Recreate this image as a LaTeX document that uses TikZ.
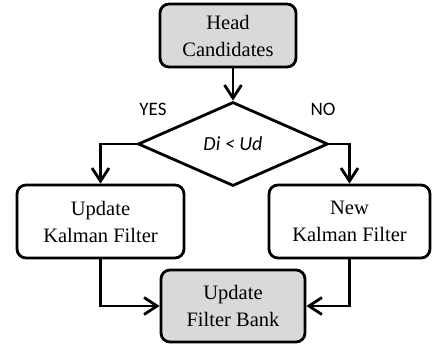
\documentclass[tikz,border=0pt]{standalone}
\usepackage{fontspec}
\setmainfont{Liberation Serif}
\newfontfamily\calfont{Carlito}
\usetikzlibrary{shapes.geometric,arrows.meta}
\definecolor{boxgray}{RGB}{217,217,217}

\begin{document}
\begin{tikzpicture}[x=1pt,y=-1pt,
        line width=2.8pt,
        block/.style={draw, rounded corners=9pt, align=center, inner sep=0pt,
            font=\fontsize{20.5}{27}\selectfont},
        grayblock/.style={block, fill=boxgray},
        decision/.style={draw, diamond, aspect=2.26, inner sep=0pt,
            minimum width=190pt, minimum height=84pt,
            font=\calfont\itshape\fontsize{20}{24}\selectfont},
        answer/.style={font=\calfont\fontsize{19}{23}\selectfont},
        flow/.style={-{Straight Barb[length=13pt,width=17pt]}}]
    \useasboundingbox (0,0) rectangle (433,348);

    \node[grayblock, minimum width=136pt, minimum height=63pt] (hc) at (228,35.5) {Head\\Candidates};
    \node[decision] (dec) at (233,144) {Di < Ud};
    \node[block, minimum width=167pt, minimum height=73pt] (ukf) at (100.5,221.5) {Update\\Kalman Filter};
    \node[block, minimum width=161pt, minimum height=73pt] (nkf) at (349.5,221.5) {New\\Kalman Filter};
    \node[grayblock, minimum width=144pt, minimum height=72pt] (ufb) at (233,306) {Update\\Filter Bank};

    \node[answer] (yes) at (153,109) {YES};
    \node[answer] (no) at (323,109) {NO};

    \draw[flow] (hc.south -| dec.north) -- (dec.north);
    \draw[flow] (dec.west) -| (ukf.north);
    \draw[flow] (dec.east) -| (nkf.north);
    \draw[flow] (ukf.south) |- (ufb.west);
    \draw[flow] (nkf.south) |- (ufb.east);
\end{tikzpicture}
\end{document}
